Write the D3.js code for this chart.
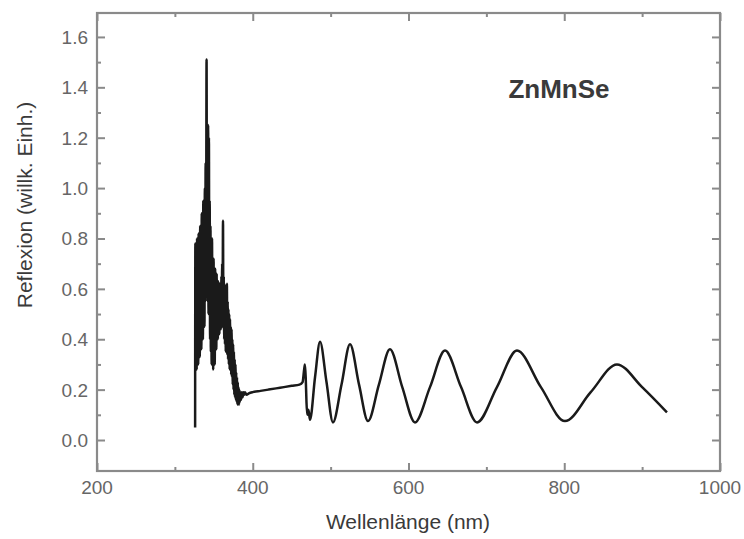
<!DOCTYPE html>
<html><head><meta charset="utf-8">
<script src="https://cdn.jsdelivr.net/npm/d3@7"></script>
<style>body{margin:0;background:#fff}svg{display:block}</style>
</head><body>
<svg id="c" width="744" height="539"></svg>
<script>
// ---- data ----
const wavelength = [
  326.0,326.3,326.8,327.5,328.0,328.5,329.0,329.5,330.0,330.5,331.0,331.5,332.0,332.5,333.0,333.5,334.0,334.5,335.0,335.5,
  336.0,336.5,337.0,337.5,338.0,338.5,339.0,339.5,340.0,340.7,341.2,341.7,342.2,342.7,343.2,343.7,344.2,344.7,345.2,345.7,
  346.2,346.7,347.2,347.7,348.2,348.7,349.2,349.7,350.2,350.7,351.2,351.7,352.2,352.7,353.2,353.7,354.2,354.7,355.2,355.7,
  356.2,356.7,357.2,357.7,358.2,358.7,359.2,359.7,360.2,360.7,361.2,361.8,362.3,362.8,363.3,363.8,364.3,364.8,365.3,365.8,
  366.3,366.8,367.3,367.8,368.3,368.8,369.3,369.8,370.3,370.8,371.3,371.8,372.3,372.8,373.3,373.8,374.3,374.8,375.3,375.8,
  376.3,376.8,377.3,377.8,378.3,378.8,379.3,379.8,380.3,380.8,381.3,381.8,382.3,382.8,383.3,384.0,385.0,386.0,387.0,388.0,
  389.0,390.0,392.0,395.0,400.0,410.0,420.0,430.0,440.0,450.0,460.0,464.0,466.0,467.0,468.0,469.0,470.0,471.5,473.5,
  480.0,486.4,494.7,503.0,514.0,524.9,536.5,548.0,562.0,576.2,592.0,608.3,627.6,646.9,667.5,688.0,713.6,739.3,770.0,
  800.9,834.0,867.7,900.0,931.9
];
const reflexion = [
  0.05,0.78,0.30,0.72,0.28,0.80,0.35,0.76,0.30,0.82,0.40,0.70,0.33,0.85,0.42,0.78,0.36,0.90,0.45,0.82,
  0.40,0.95,0.50,0.88,0.45,1.00,0.55,1.10,0.60,1.51,0.62,1.05,0.55,1.25,0.50,1.20,0.58,0.95,0.40,0.85,
  0.35,0.75,0.30,0.80,0.38,0.70,0.28,0.72,0.35,0.65,0.30,0.68,0.40,0.62,0.36,0.66,0.42,0.60,0.40,0.63,
  0.45,0.58,0.42,0.62,0.46,0.60,0.44,0.65,0.48,0.70,0.45,0.87,0.46,0.65,0.40,0.62,0.38,0.60,0.35,0.58,
  0.36,0.62,0.34,0.55,0.32,0.52,0.30,0.50,0.28,0.48,0.30,0.45,0.26,0.44,0.25,0.40,0.22,0.38,0.20,0.35,
  0.18,0.32,0.17,0.30,0.16,0.27,0.15,0.25,0.14,0.23,0.15,0.21,0.14,0.20,0.15,0.19,0.16,0.19,0.17,0.19,
  0.18,0.19,0.18,0.185,0.19,0.195,0.20,0.205,0.21,0.215,0.22,0.23,0.28,0.30,0.25,0.15,0.10,0.12,0.08,
  0.25,0.39,0.23,0.07,0.22,0.38,0.22,0.075,0.22,0.36,0.21,0.07,0.21,0.355,0.21,0.07,0.21,0.355,0.21,
  0.075,0.19,0.30,0.21,0.11
];
const xTicks = [200, 400, 600, 800, 1000];
const xMinor = [300, 500, 700, 900];
const yTicks = [0.0, 0.2, 0.4, 0.6, 0.8, 1.0, 1.2, 1.4, 1.6];
const yMinor = [0.1, 0.3, 0.5, 0.7, 0.9, 1.1, 1.3, 1.5];
const xTitle = "Wellenlänge (nm)";
const yTitle = "Reflexion (willk. Einh.)";
const sampleLabel = "ZnMnSe";

// ---- layout ----
const L = 97, T = 13, R = 720, B = 471;
const svg = d3.select("#c");
const x = d3.scaleLinear().domain([200, 1000]).range([L, R]);
const y = d3.scaleLinear().domain([-0.123, 1.695]).range([B, T]);
const axisCol = "#8a8a8a", textCol = "#666";
const font = "Liberation Sans, Arial, sans-serif";

const pts = wavelength.map((w, i) => [w, reflexion[i]]);
svg.append("path")
  .attr("d", d3.line().x(d => x(d[0])).y(d => y(d[1])).curve(d3.curveMonotoneX)(pts))
  .attr("fill", "none").attr("stroke", "#1a1a1a").attr("stroke-width", 2.5)
  .attr("stroke-linejoin", "round");

// axes (ticks inward on all four sides)
function ax(gen, tr, vals, len) {
  svg.append("g").attr("transform", tr)
    .call(gen.tickValues(vals).tickSize(len).tickFormat(""))
    .call(g => g.select(".domain").remove())
    .call(g => g.selectAll("line").attr("stroke", axisCol).attr("stroke-width", 2));
}
ax(d3.axisTop(x), `translate(0,${B})`, xTicks, 8);
ax(d3.axisTop(x), `translate(0,${B})`, xMinor, 4);
ax(d3.axisBottom(x), `translate(0,${T})`, xTicks, 8);
ax(d3.axisBottom(x), `translate(0,${T})`, xMinor, 4);
ax(d3.axisRight(y), `translate(${L},0)`, yTicks, 8);
ax(d3.axisRight(y), `translate(${L},0)`, yMinor, 4);
ax(d3.axisLeft(y), `translate(${R},0)`, yTicks, 8);
ax(d3.axisLeft(y), `translate(${R},0)`, yMinor, 4);

svg.append("rect").attr("x", L).attr("y", T).attr("width", R - L).attr("height", B - T)
  .attr("fill", "none").attr("stroke", axisCol).attr("stroke-width", 2.2);

// tick labels
svg.append("g").selectAll("text").data(xTicks).join("text")
  .attr("x", d => x(d)).attr("y", B + 23).attr("text-anchor", "middle")
  .attr("font-family", font).attr("font-size", 19).attr("fill", textCol).text(d => d);
svg.append("g").selectAll("text").data(yTicks).join("text")
  .attr("x", L - 9).attr("y", d => y(d) + 7).attr("text-anchor", "end")
  .attr("font-family", font).attr("font-size", 19).attr("fill", textCol).text(d => d.toFixed(1));

// titles
svg.append("text").attr("x", 408).attr("y", 529).attr("text-anchor", "middle")
  .attr("font-family", font).attr("font-size", 21).attr("fill", "#3a3a3a").text(xTitle);
svg.append("text").attr("transform", "translate(32,205) rotate(-90)").attr("text-anchor", "middle")
  .attr("font-family", font).attr("font-size", 21).attr("fill", "#3a3a3a").text(yTitle);
svg.append("text").attr("x", 559).attr("y", 98).attr("text-anchor", "middle")
  .attr("font-family", font).attr("font-size", 26).attr("font-weight", "bold").attr("fill", "#3a3a3a").text(sampleLabel);
</script>
</body></html>
